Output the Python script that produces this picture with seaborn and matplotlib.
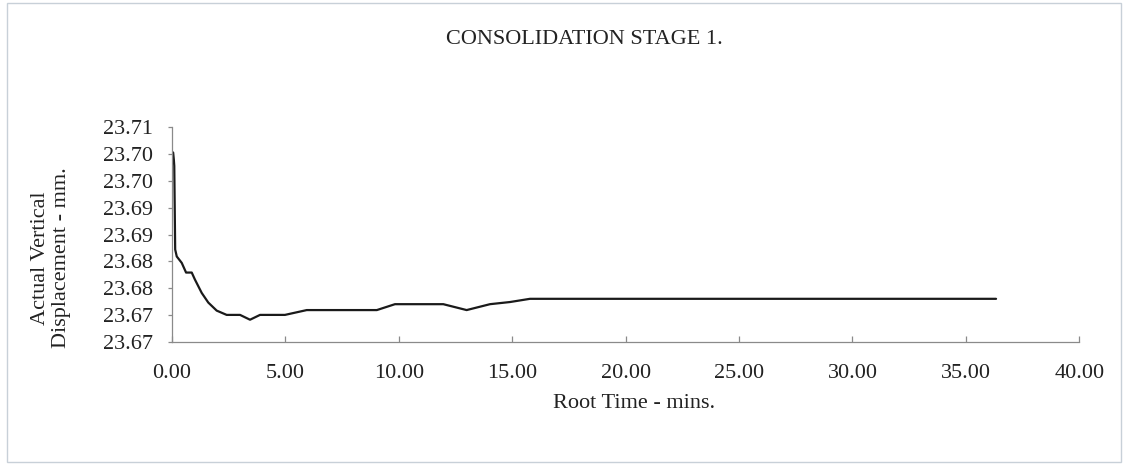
import matplotlib
matplotlib.use("Agg")
import matplotlib.pyplot as plt
import seaborn as sns
import pandas as pd
from matplotlib.patches import Rectangle

# Data
root_time = [0.00, 0.05, 0.08, 0.10, 0.14, 0.21, 0.43, 0.62, 0.87, 1.01, 1.31,
             1.60, 1.97, 2.41, 3.00, 3.44, 3.88, 4.98, 5.94, 9.03, 9.83, 11.96,
             12.99, 14.02, 14.90, 15.78, 36.33]
displacement = [23.7003, 23.7003, 23.6990, 23.6978, 23.6822, 23.6809, 23.6797,
                23.6779, 23.6779, 23.6766, 23.6741, 23.6723, 23.6708, 23.6700,
                23.6700, 23.6691, 23.6700, 23.6700, 23.6709, 23.6709, 23.6720,
                23.6720, 23.6709, 23.6720, 23.6724, 23.6730, 23.6730]
x_ticks = [0, 5, 10, 15, 20, 25, 30, 35, 40]
x_tick_labels = ["0.00", "5.00", "10.00", "15.00", "20.00", "25.00", "30.00", "35.00", "40.00"]
y_ticks = [23.665, 23.670, 23.675, 23.680, 23.685, 23.690, 23.695, 23.700, 23.705]
y_tick_labels = ["23.67", "23.67", "23.68", "23.68", "23.69", "23.69", "23.70", "23.70", "23.71"]
title = "CONSOLIDATION STAGE 1."
x_label = "Root Time - mins."
y_label = "Actual Vertical\nDisplacement - mm."

df = pd.DataFrame({"t": root_time, "d": displacement})

sns.set_theme(style="white")
plt.rcParams["font.family"] = ["Liberation Serif", "DejaVu Serif"]

W, H = 1129, 466
FS = 16
TXT = "#222222"
fig = plt.figure(figsize=(W / 100, H / 100), dpi=100)
fig.patch.set_facecolor("white")

left, right, top, bottom = 172, 1079.3, 127.3, 341.7
ax = fig.add_axes([left / W, 1 - bottom / H, (right - left) / W, (bottom - top) / H])

sns.lineplot(data=df, x="t", y="d", ax=ax, color="#1a1a1a", linewidth=1.6,
             sort=False, estimator=None)

ax.set_xlim(0, 40)
ax.set_ylim(23.665, 23.705)
ax.set_xticks(x_ticks)
ax.set_xticklabels(x_tick_labels)
ax.set_yticks(y_ticks)
ax.set_yticklabels(y_tick_labels)
ax.set_xlabel("")
ax.set_ylabel("")

for s in ["top", "right"]:
    ax.spines[s].set_visible(False)
for s in ["left", "bottom"]:
    ax.spines[s].set_color("#8a8a8a")
    ax.spines[s].set_linewidth(0.9)

ax.tick_params(axis="x", direction="in", length=4, width=0.9, color="#8a8a8a",
               labelsize=FS, pad=16, labelcolor=TXT, bottom=True)
ax.tick_params(axis="y", direction="out", length=3, width=0.9, color="#8a8a8a",
               labelsize=FS, pad=11, labelcolor=TXT, left=True)

# axis titles and chart title
fig.text(634 / W, 1 - 404 / H, x_label, ha="center", va="center", fontsize=FS, color=TXT)
fig.text(51 / W, 1 - 258 / H, y_label, ha="center", va="center", rotation=90,
         multialignment="center", fontsize=FS, color=TXT, linespacing=1.2)
fig.text(584 / W, 1 - 39 / H, title, ha="center", va="center", fontsize=FS, color=TXT)

# chart-area border
fig.patches.append(Rectangle((7 / W, 1 - 462 / H), (1121 - 7) / W, (462 - 3) / H,
                             transform=fig.transFigure, fill=False,
                             edgecolor="#c8d0d8", linewidth=1.0))

fig.savefig("out.png", dpi=100, facecolor="white")
